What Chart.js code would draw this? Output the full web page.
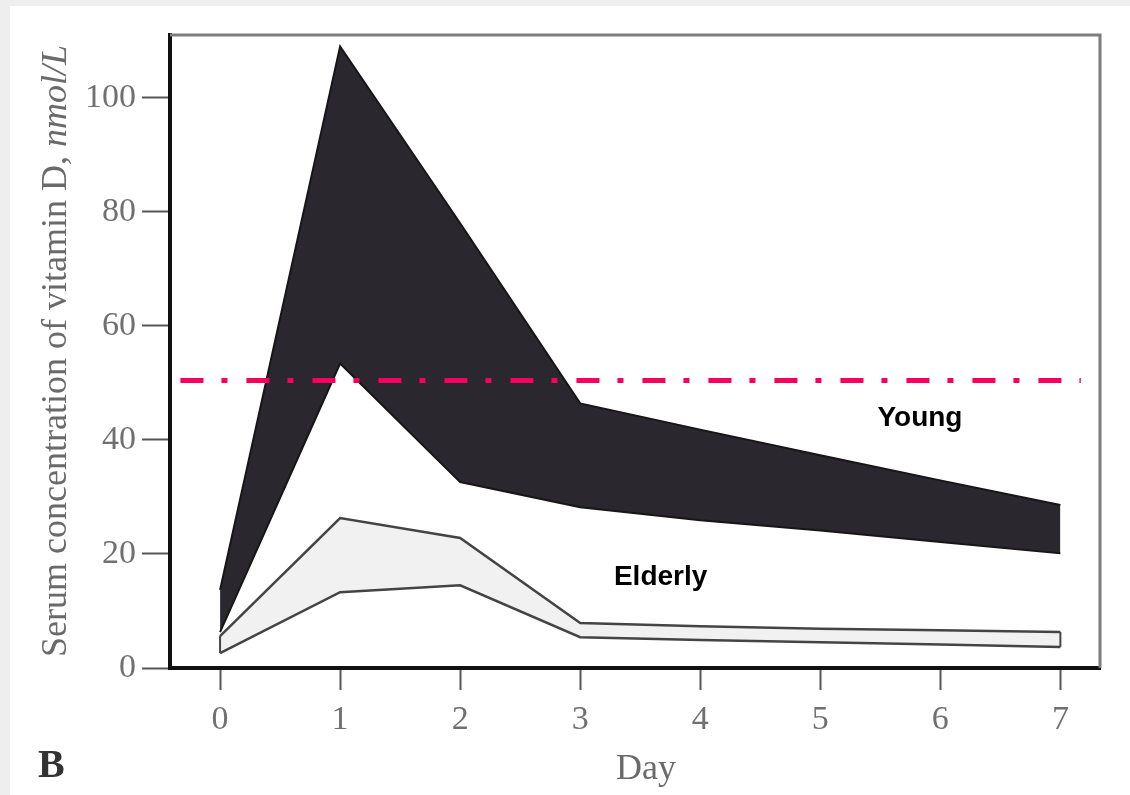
<!DOCTYPE html>
<html lang="en">
<head>
<meta charset="utf-8">
<title>Serum vitamin D after a single dose: young vs elderly</title>
<script src="https://cdn.jsdelivr.net/npm/chart.js@4.4.1/dist/chart.umd.min.js"></script>
<style>
  html, body { margin: 0; padding: 0; }
  body { width: 1130px; height: 795px; background: #eeeeee; position: relative; overflow: hidden; }
  #paper { position: absolute; left: 10px; top: 6px; right: 0; bottom: 0; background: #ffffff; }
  #chart { position: absolute; left: 0; top: 0; }
</style>
</head>
<body>
<div id="paper"></div>
<canvas id="chart" width="1130" height="795"></canvas>
<script>
'use strict';

// ── Data ───────────────────────────────────────
const DAYS         = [0, 1, 2, 3, 4, 5, 6, 7];
const YOUNG_HIGH   = [13.7, 109, 78, 46.4, 41.8, 37.3, 32.9, 28.6];
const YOUNG_LOW    = [6.3, 53.4, 32.6, 28.2, 25.9, 24.1, 22.1, 20.1];
const ELDERLY_HIGH = [5.6, 26.3, 22.8, 7.9, 7.3, 6.9, 6.6, 6.3];
const ELDERLY_LOW  = [2.6, 13.3, 14.5, 5.4, 4.9, 4.5, 4.1, 3.7];
const REF_LEVEL    = 50.4;
const REF_SPAN     = [-0.33, 7.17];
const X_TICKS      = [0, 1, 2, 3, 4, 5, 6, 7];
const Y_TICKS      = [0, 20, 40, 60, 80, 100];

// ── Colours / fonts ────────────────────────────
const GREY_TEXT = '#707070';
const SERIF     = '"Liberation Serif", "DejaVu Serif", serif';
const SANS      = '"Liberation Sans", Arial, sans-serif';

const pts = (xs, ys) => xs.map((x, i) => ({ x, y: ys[i] }));

// ── Extra drawing: frame, band labels, titles ──
const figureText = {
  id: 'figureText',
  afterDraw(chart) {
    const { ctx, chartArea: a, scales: { x, y } } = chart;
    ctx.save();

    // top + right edge of the plot box (lighter than the axes)
    ctx.strokeStyle = '#7d7d7d';
    ctx.lineWidth = 3;
    ctx.beginPath();
    ctx.moveTo(a.left, a.top);
    ctx.lineTo(a.right, a.top);
    ctx.lineTo(a.right, a.bottom);
    ctx.stroke();

    // band labels
    ctx.fillStyle = '#000';
    ctx.font = 'bold 28px ' + SANS;
    ctx.textAlign = 'center';
    ctx.textBaseline = 'middle';
    ctx.fillText('Young',   x.getPixelForValue(5.83), y.getPixelForValue(43.8));
    ctx.fillText('Elderly', x.getPixelForValue(3.67), y.getPixelForValue(15.9));

    // x title
    ctx.fillStyle = '#6a6a6a';
    ctx.font = '36px ' + SERIF;
    ctx.fillText('Day', 646, 770);

    // panel letter
    ctx.fillStyle = '#333';
    ctx.font = 'bold 40px ' + SERIF;
    ctx.textAlign = 'left';
    ctx.fillText('B', 38, 767);

    // y title, unit in italics
    const main = 'Serum concentration of vitamin D, ';
    const unit = 'nmol/L';
    ctx.translate(66, 351);
    ctx.rotate(-Math.PI / 2);
    ctx.textBaseline = 'alphabetic';
    ctx.fillStyle = '#6a6a6a';
    ctx.font = '36px ' + SERIF;
    const w1 = ctx.measureText(main).width;
    ctx.font = 'italic 36px ' + SERIF;
    const w2 = ctx.measureText(unit).width;
    const start = -(w1 + w2) / 2;
    ctx.font = '36px ' + SERIF;
    ctx.fillText(main, start, 0);
    ctx.font = 'italic 36px ' + SERIF;
    ctx.fillText(unit, start + w1, 0);

    ctx.restore();
  },
};

// ── Datasets (index 0 drawn on top) ────────────
const lineDefaults = { showLine: true, tension: 0, pointRadius: 0, borderWidth: 2 };

const datasets = [
  {
    ...lineDefaults,
    label: 'Reference level',
    data: REF_SPAN.map(x => ({ x, y: REF_LEVEL })),
    borderColor: '#f7005f',
    borderWidth: 5,
    borderDash: [23, 18, 6, 19],
    borderCapStyle: 'butt',
    fill: false,
  },
  {
    ...lineDefaults,
    label: 'Elderly (upper)',
    data: pts(DAYS, ELDERLY_HIGH),
    borderColor: '#444',
    borderWidth: 2.5,
    backgroundColor: '#f1f1f1',
    fill: '+1',
  },
  {
    ...lineDefaults,
    label: 'Elderly (lower)',
    data: pts(DAYS, ELDERLY_LOW),
    borderColor: '#444',
    borderWidth: 2.5,
    fill: false,
  },
  {
    ...lineDefaults,
    label: 'Elderly day 0 edge',
    data: [{ x: DAYS[0], y: ELDERLY_LOW[0] }, { x: DAYS[0], y: ELDERLY_HIGH[0] }],
    borderColor: '#444',
    fill: false,
  },
  {
    ...lineDefaults,
    label: 'Elderly day 7 edge',
    data: [{ x: DAYS[7], y: ELDERLY_LOW[7] }, { x: DAYS[7], y: ELDERLY_HIGH[7] }],
    borderColor: '#444',
    fill: false,
  },
  {
    ...lineDefaults,
    label: 'Young (upper)',
    data: pts(DAYS, YOUNG_HIGH),
    borderColor: '#161616',
    backgroundColor: '#2a272e',
    fill: '+1',
  },
  {
    ...lineDefaults,
    label: 'Young (lower)',
    data: pts(DAYS, YOUNG_LOW),
    borderColor: '#161616',
    fill: false,
  },
];

// ── Chart ──────────────────────────────────────
new Chart(document.getElementById('chart'), {
  type: 'scatter',
  data: { datasets },
  options: {
    responsive: false,
    animation: false,
    devicePixelRatio: 1,
    layout: { padding: { top: 35, right: 30, left: 0, bottom: 0 } },
    plugins: {
      legend: { display: false },
      tooltip: { enabled: false },
      filler: { drawTime: 'beforeDatasetsDraw' },
    },
    scales: {
      x: {
        type: 'linear',
        min: -0.417,
        max: 7.33,
        afterBuildTicks: s => { s.ticks = X_TICKS.map(v => ({ value: v })); },
        afterFit: s => { s.height = 127; },
        grid: { drawOnChartArea: false, tickLength: 22, tickColor: '#555', tickWidth: 2 },
        border: { color: '#111', width: 4 },
        ticks: { color: GREY_TEXT, padding: 10, maxRotation: 0, font: { family: SERIF, size: 34 } },
      },
      y: {
        min: 0,
        max: 111,
        afterBuildTicks: s => { s.ticks = Y_TICKS.map(v => ({ value: v })); },
        afterFit: s => { s.width = 170; },
        grid: { drawOnChartArea: false, tickLength: 28, tickColor: '#555', tickWidth: 2 },
        border: { color: '#111', width: 4 },
        ticks: { color: GREY_TEXT, padding: 6, font: { family: SERIF, size: 34 } },
      },
    },
  },
  plugins: [figureText],
});
</script>
</body>
</html>
